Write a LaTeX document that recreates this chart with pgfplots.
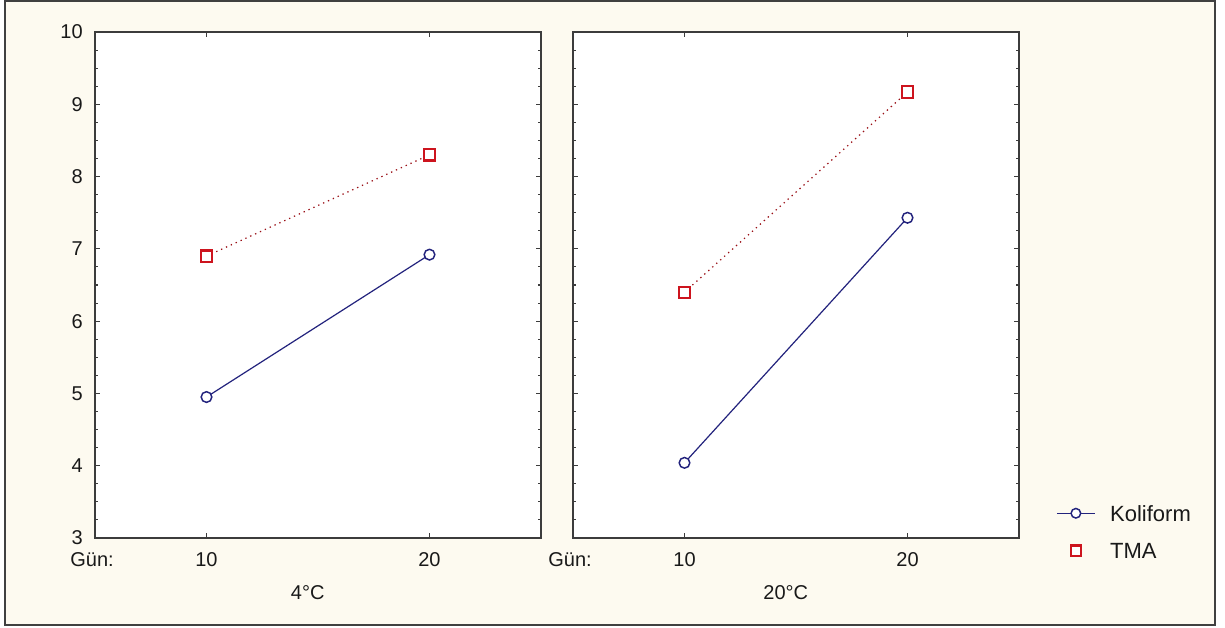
\documentclass[border=0pt]{standalone}
\usepackage{fontspec}
\setmainfont{Liberation Sans}
\usepackage{pgfplots}
\pgfplotsset{compat=1.18}
\definecolor{bgcol}{RGB}{253,250,240}
\definecolor{kol}{RGB}{35,35,125}
\definecolor{tma}{RGB}{205,20,30}
\definecolor{framecol}{RGB}{60,60,60}

\pgfplotsset{panel/.style={
  scale only axis, width=334.5pt, height=379.5pt, anchor=south west,
  xmin=5, xmax=25, ymin=3, ymax=10,
  xtick={10,20}, ytick={3,4,5,6,7,8,9,10}, minor y tick num=3,
  tick align=inside, major tick length=4pt, minor tick length=2.5pt,
  axis background/.style={fill=white},
  axis line style={framecol, line width=1.1pt},
  tick style={framecol, line width=0.8pt},
  /pgf/number format/assume math mode=true,
  tick label style={font=\fontsize{15}{18}\selectfont, text=black!90},
  xticklabel style={anchor=base, yshift=-21.75pt, inner sep=0pt},
  yticklabel style={anchor=east, xshift=-9pt, inner sep=0pt},
  clip=false,
}}

\begin{document}
\begin{tikzpicture}
\useasboundingbox (0,0) rectangle (918.75pt,471pt);
\fill[white] (0,0) rectangle (918.75pt,471pt);
\fill[bgcol] (3.75pt,2.25pt) rectangle (911.25pt,470.25pt);
\draw[black!75, line width=1.5pt] (3.75pt,2.25pt) rectangle (911.25pt,470.25pt);

% left panel
\begin{axis}[panel, at={(71.25pt,67.5pt)}]
\addplot[kol, line width=0.9pt, mark=*, mark size=4pt, mark options={draw=kol, fill=white, line width=1.1pt}]
  coordinates {(10,4.95) (20,6.92)};
\addplot[tma!75!black, line width=0.9pt, dash pattern=on 1pt off 3pt, mark=square*, mark size=4.2pt,
  mark options={solid, draw=tma, fill=white, line width=1.6pt}]
  coordinates {(10,6.90) (20,8.30)};
\node[anchor=base, font=\fontsize{15}{18}\selectfont, text=black!90, inner sep=0pt]
  at (rel axis cs:0,0) [xshift=-2.25pt, yshift=-21.75pt] {Gün:};
\node[anchor=base, font=\fontsize{15}{18}\selectfont, text=black!90, inner sep=0pt]
  at (rel axis cs:0.477,0) [yshift=-46.5pt] {4°C};
\end{axis}

% right panel
\begin{axis}[panel, at={(429.75pt,67.5pt)}, yticklabels={},
  legend image code/.code={\draw[mark repeat=2, mark phase=2, #1] plot coordinates {(0pt,0pt) (14.25pt,0pt) (28.5pt,0pt)};},
  legend style={at={(1.083,0.012)}, anchor=west, draw=none, fill=none, inner sep=0pt,
    font=\fontsize{16.5}{19}\selectfont, text=black!90, row sep=16pt, column sep=11pt,
    nodes={inner sep=0pt, text height=12pt, text depth=0pt}},
  legend cell align=left]
\addplot[kol, line width=0.9pt, mark=*, mark size=4pt, mark options={draw=kol, fill=white, line width=1.1pt}, forget plot]
  coordinates {(10,4.04) (20,7.43)};
\addplot[tma!75!black, line width=0.9pt, dash pattern=on 1pt off 3pt, mark=square*, mark size=4.2pt,
  mark options={solid, draw=tma, fill=white, line width=1.6pt}, forget plot]
  coordinates {(10,6.40) (20,9.17)};
\addlegendimage{kol, line width=0.9pt, mark=*, mark size=3.6pt, mark options={draw=kol, fill=white, line width=1.1pt}}
\addlegendentry{Koliform}
\addlegendimage{only marks, mark=square*, mark size=3.8pt, mark options={draw=tma, fill=white, line width=1.6pt}}
\addlegendentry{TMA}
\node[anchor=base, font=\fontsize{15}{18}\selectfont, text=black!90, inner sep=0pt]
  at (rel axis cs:0,0) [xshift=-2.25pt, yshift=-21.75pt] {Gün:};
\node[anchor=base, font=\fontsize{15}{18}\selectfont, text=black!90, inner sep=0pt]
  at (rel axis cs:0.477,0) [yshift=-46.5pt] {20°C};
\end{axis}
\end{tikzpicture}
\end{document}
